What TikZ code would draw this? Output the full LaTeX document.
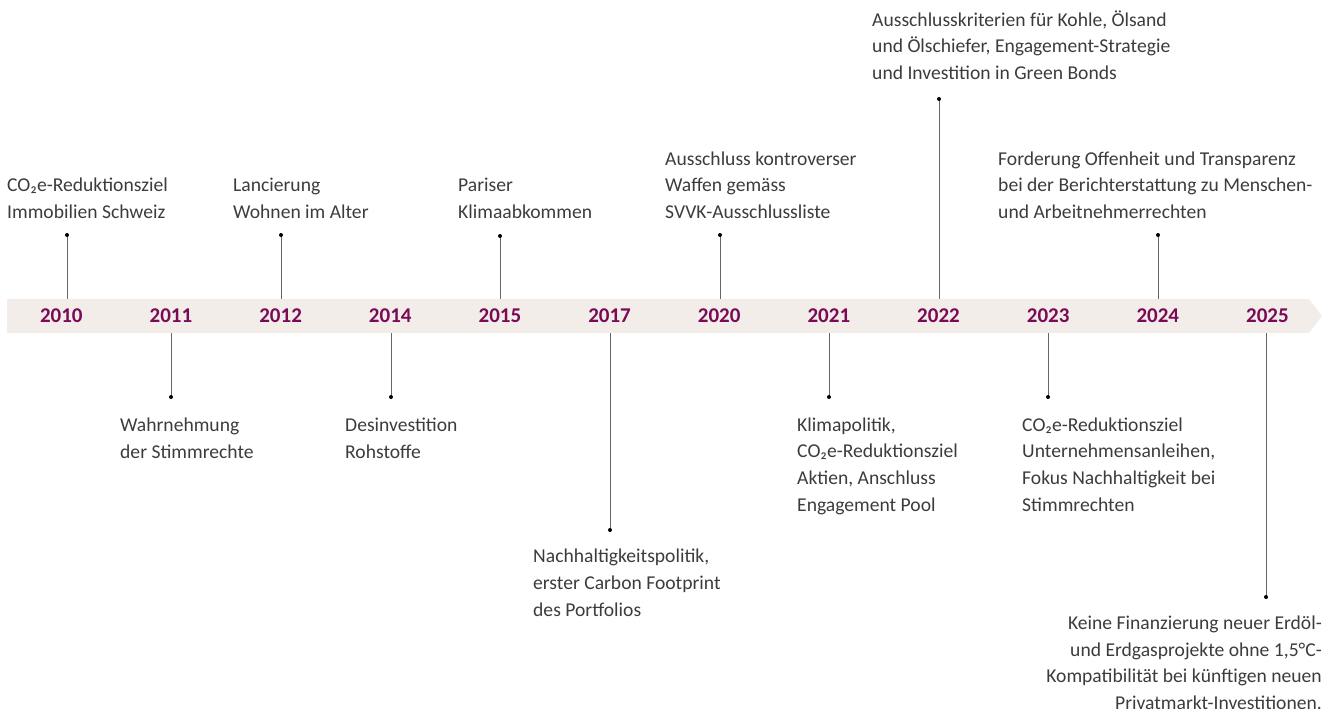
\documentclass[tikz,border=0pt]{standalone}
\usepackage{fontspec}
\setmainfont{Carlito}
\usetikzlibrary{positioning}
\definecolor{bandgray}{HTML}{F2EDE9}
\definecolor{yearpurple}{HTML}{7B0A56}
\definecolor{txtgray}{HTML}{3C3C3C}
\definecolor{stemgray}{HTML}{666666}

\begin{document}
\begin{tikzpicture}[x=1pt,y=-1pt,
  year/.style={font=\fontsize{21}{21}\selectfont\bfseries, text=yearpurple, inner sep=0pt, anchor=base},
  ev/.style={font=\fontsize{19.6}{26.6}\selectfont, text=txtgray, inner sep=0pt, align=left, anchor=base west},
  stem/.style={draw=stemgray, line width=1pt}]

  \useasboundingbox (0,0) rectangle (1332,713);

  % band
  \fill[bandgray] (7,299) -- (1309,299) -- (1322,316) -- (1309,333) -- (7,333) -- cycle;
  \coordinate (btop) at (0,299);
  \coordinate (bbot) at (0,333);

  % years
  \foreach \yr [count=\i from 0] in {2010,2011,2012,2014,2015,2017,2020,2021,2022,2023,2024,2025}
    \node[year] (y\yr) at (61.3+109.65*\i,322.7) {\yr};

  % dots above
  \coordinate (d2010) at (67,235);
  \coordinate (d2012) at (281,235);
  \coordinate (d2015) at (500,236);
  \coordinate (d2020) at (720,235);
  \coordinate (d2022) at (939,99);
  \coordinate (d2024) at (1158,235);
  % dots below
  \coordinate (d2011) at (171,397);
  \coordinate (d2014) at (391,397);
  \coordinate (d2017) at (610,530);
  \coordinate (d2021) at (829,397);
  \coordinate (d2023) at (1048,397);
  \coordinate (d2025) at (1266,597);

  \foreach \d in {2010,2012,2015,2020,2022,2024}
    \draw[stem] (d\d) -- (d\d |- btop);
  \foreach \d in {2011,2014,2017,2021,2023,2025}
    \draw[stem] (d\d) -- (d\d |- bbot);
  \foreach \d in {2010,2011,2012,2014,2015,2017,2020,2021,2022,2023,2024,2025}
    \fill (d\d) circle (2);

  % texts above (anchored at the last baseline)
  \node[ev] (e2010) at (7,218.5) {CO₂e-Reduktionsziel\\Immobilien Schweiz};
  \node[ev] (e2012) at (233,218.5) {Lancierung\\Wohnen im Alter};
  \node[ev] (e2015) at (458,218.5) {Pariser\\Klimaabkommen};
  \node[ev] (e2020) at (665,218.5) {Ausschluss kontroverser\\Waffen gemäss\\SVVK-Ausschlussliste};
  \node[ev] (e2022) at (872,79.5) {Ausschlusskriterien für Kohle, Ölsand\\und Ölschiefer, Engagement-Strategie\\und Investition in Green Bonds};
  \node[ev] (e2024) at (998,218.5) {Forderung Offenheit und Transparenz\\bei der Berichterstattung zu Menschen-\\und Arbeitnehmerrechten};

  % texts below
  \node[ev] (e2011) at (120,458) {Wahrnehmung\\der Stimmrechte};
  \node[ev] (e2014) at (345,458) {Desinvestition\\Rohstoffe};
  \node[ev] (e2017) at (533,616) {Nachhaltigkeitspolitik,\\erster Carbon Footprint\\des Portfolios};
  \node[ev] (e2021) at (797,511) {Klimapolitik,\\CO₂e-Reduktionsziel\\Aktien, Anschluss\\Engagement Pool};
  \node[ev] (e2023) at (1022,511) {CO₂e-Reduktionsziel\\Unternehmensanleihen,\\Fokus Nachhaltigkeit bei\\Stimmrechten};
  \node[ev, align=right, anchor=base east] (e2025) at (1322,709.5) {Keine Finanzierung neuer Erdöl-\\und Erdgasprojekte ohne 1,5°C-\\Kompatibilität bei künftigen neuen\\Privatmarkt-Investitionen.};

\end{tikzpicture}
\end{document}
